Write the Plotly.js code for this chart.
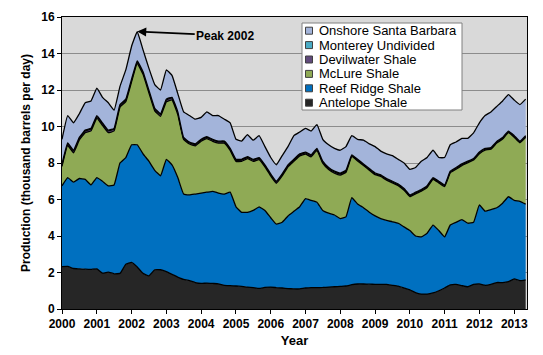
<!DOCTYPE html>
<html>
<head>
<meta charset="utf-8">
<script src="https://cdn.plot.ly/plotly-3.0.1.min.js"></script>
<style>html,body{margin:0;padding:0;background:#fff;}#chart{width:543px;height:355px;}</style>
</head>
<body>
<div id="chart"></div>
<script>
// Sample dates (every two months)
var dates = [
 '2000-01','2000-03','2000-05','2000-07','2000-09','2000-11',
 '2001-01','2001-03','2001-05','2001-07','2001-09','2001-11',
 '2002-01','2002-03','2002-05','2002-07','2002-09','2002-11',
 '2003-01','2003-03','2003-05','2003-07','2003-09','2003-11',
 '2004-01','2004-03','2004-05','2004-07','2004-09','2004-11',
 '2005-01','2005-03','2005-05','2005-07','2005-09','2005-11',
 '2006-01','2006-03','2006-05','2006-07','2006-09','2006-11',
 '2007-01','2007-03','2007-05','2007-07','2007-09','2007-11',
 '2008-01','2008-03','2008-05','2008-07','2008-09','2008-11',
 '2009-01','2009-03','2009-05','2009-07','2009-09','2009-11',
 '2010-01','2010-03','2010-05','2010-07','2010-09','2010-11',
 '2011-01','2011-03','2011-05','2011-07','2011-09','2011-11',
 '2012-01','2012-03','2012-05','2012-07','2012-09','2012-11',
 '2013-01','2013-03','2013-05'
];

// Production, thousand barrels per day
var antelope = [
 2.32,2.33,2.22,2.2,2.18,2.17, 2.2,1.97,2.02,1.93,1.95,2.45,
 2.55,2.3,1.95,1.82,2.15,2.15, 2.05,1.9,1.75,1.62,1.55,1.45,
 1.4,1.42,1.4,1.38,1.3,1.28, 1.26,1.24,1.2,1.17,1.13,1.18,
 1.2,1.17,1.15,1.12,1.1,1.1, 1.15,1.17,1.17,1.18,1.2,1.22,
 1.24,1.26,1.33,1.37,1.37,1.36, 1.35,1.35,1.35,1.3,1.25,1.15,
 1.05,0.9,0.82,0.82,0.88,1.0, 1.15,1.32,1.35,1.28,1.22,1.35,
 1.38,1.3,1.35,1.45,1.45,1.5, 1.65,1.55,1.6
];
var reefRidge = [
 4.43,4.87,4.73,4.95,4.92,4.63, 5.0,5.03,4.73,4.87,6.05,5.85,
 6.45,6.7,6.55,6.28,5.45,5.15, 6.15,6.0,5.45,4.68,4.7,4.85,
 4.95,4.98,5.05,4.97,5.0,5.12, 4.34,4.06,4.1,4.23,4.47,4.22,
 3.8,3.48,3.6,3.98,4.25,4.5, 4.9,4.78,4.68,4.22,4.05,3.93,
 3.71,3.79,4.77,4.38,4.18,3.94, 3.75,3.6,3.5,3.48,3.45,3.35,
 3.25,3.1,3.13,3.33,3.72,3.3, 2.8,3.28,3.4,3.62,3.48,3.4,
 4.32,4.06,4.1,4.1,4.35,4.65, 4.3,4.35,4.15
];
var mclure = [
 1.06,1.76,1.61,2.11,2.56,2.96, 3.26,3.06,2.91,2.96,3.06,3.06,
 3.46,4.46,4.36,3.76,3.26,3.26, 3.16,3.56,3.46,2.99,2.79,2.64,
 2.84,2.94,2.74,2.74,2.79,2.29, 2.49,2.79,2.94,2.69,2.59,2.39,
 2.29,2.24,2.54,2.69,2.74,2.79, 2.44,2.39,2.84,2.59,2.39,2.29,
 2.39,2.44,2.26,2.36,2.31,2.31, 2.26,2.31,2.21,2.13,2.06,2.01,
 1.86,2.31,2.51,2.51,2.51,2.61, 2.76,2.86,2.91,2.96,3.31,3.41,
 2.81,3.35,3.31,3.54,3.51,3.51, 3.46,3.21,3.66
];
var devilwater = [
 0.1,0.1,0.1,0.1,0.1,0.1, 0.1,0.1,0.1,0.1,0.1,0.1,
 0.1,0.1,0.1,0.1,0.1,0.1, 0.1,0.1,0.1,0.07,0.07,0.07,
 0.07,0.07,0.07,0.07,0.07,0.07, 0.07,0.07,0.07,0.07,0.07,0.07,
 0.07,0.07,0.07,0.07,0.07,0.07, 0.07,0.07,0.07,0.07,0.07,0.07,
 0.07,0.07,0.05,0.05,0.05,0.05, 0.05,0.05,0.05,0.05,0.05,0.05,
 0.05,0.05,0.05,0.05,0.05,0.05, 0.05,0.05,0.05,0.05,0.05,0.05,
 0.05,0.05,0.05,0.05,0.05,0.05, 0.05,0.05,0.05
];
var montereyUndivided = [
 0.04,0.04,0.04,0.04,0.04,0.04, 0.04,0.04,0.04,0.04,0.04,0.04,
 0.04,0.04,0.04,0.04,0.04,0.04, 0.04,0.04,0.04,0.04,0.04,0.04,
 0.04,0.04,0.04,0.04,0.04,0.04, 0.04,0.04,0.04,0.04,0.04,0.04,
 0.04,0.04,0.04,0.04,0.04,0.04, 0.04,0.04,0.04,0.04,0.04,0.04,
 0.04,0.04,0.04,0.04,0.04,0.04, 0.04,0.04,0.04,0.04,0.04,0.04,
 0.04,0.04,0.04,0.04,0.04,0.04, 0.04,0.04,0.04,0.04,0.04,0.04,
 0.04,0.04,0.04,0.04,0.04,0.04, 0.04,0.04,0.04
];
var onshoreSB = [
 1.35,1.5,1.5,1.3,1.5,1.5, 1.5,1.4,1.5,1.0,1.0,1.6,
 1.8,1.6,1.2,1.2,1.3,1.3, 1.6,1.2,1.0,1.4,1.45,1.35,
 1.2,1.35,1.3,1.4,1.2,1.4, 1.1,1.0,1.2,1.05,1.2,1.0,
 0.9,0.9,1.0,1.0,1.3,1.2, 1.3,1.3,1.3,1.2,1.25,1.25,
 1.25,1.3,1.05,1.1,1.3,1.35, 1.45,1.3,1.35,1.4,1.35,1.4,
 1.4,1.35,1.55,1.55,1.5,1.3, 1.5,1.45,1.4,1.4,1.25,1.4,
 1.6,1.8,1.95,1.92,2.0,2.0, 1.95,2.0,2.0
];

var seriesNames = ['Antelope Shale','Reef Ridge Shale','McLure Shale','Devilwater Shale','Monterey Undivided','Onshore Santa Barbara'];
var seriesData = [antelope, reefRidge, mclure, devilwater, montereyUndivided, onshoreSB];
var seriesColors = ['#262626','#0070c0','#8faa55','#604a7b','#4bacc6','#a3b4da'];

var traces = seriesNames.map(function(name, i){
  return {
    x: dates, y: seriesData[i], name: name, type: 'scatter', mode: 'lines',
    stackgroup: 'one', fillcolor: seriesColors[i],
    line: {color: '#000000', width: 1.3, shape: 'spline', smoothing: 0.3},
    hoverinfo: 'x+y+name', showlegend: false
  };
});

var font = 'Arial, "Liberation Sans", sans-serif';

// Custom compact legend (box, swatches, labels), in plot-area fractions
var plotL = 62, plotR = 527, plotT = 17, plotB = 309;
function px(x){ return (x - plotL) / (plotR - plotL); }
function py(y){ return (plotB - y) / (plotB - plotT); }
var legBox = {x0: 302, x1: 462, y0: 23, y1: 110};
var legRow0 = 30.7, legRowGap = 14.4, legSwatchX = 309, legTextX = 317;

var shapes = [{
  type: 'rect', xref: 'paper', yref: 'paper',
  x0: px(legBox.x0), x1: px(legBox.x1), y0: py(legBox.y1), y1: py(legBox.y0),
  fillcolor: '#ffffff', line: {color: '#808080', width: 1}, layer: 'above'
}];
var annotations = [{
  x: '2002-03-01', y: 15.2, xref: 'x', yref: 'y',
  text: '<b>Peak 2002</b>', showarrow: true,
  arrowhead: 2, arrowsize: 1, arrowwidth: 1.8, arrowcolor: '#000',
  ax: 88, ay: 4, font: {family: font, size: 12, color: '#000'}
}];
for (var j = 0; j < seriesNames.length; j++) {
  var idx = seriesNames.length - 1 - j;
  var rowY = legRow0 + j * legRowGap;
  shapes.push({
    type: 'rect', xref: 'paper', yref: 'paper',
    xsizemode: 'pixel', ysizemode: 'pixel',
    xanchor: px(legSwatchX), yanchor: py(rowY),
    x0: -3.5, x1: 3.5, y0: -3.5, y1: 3.5,
    fillcolor: seriesColors[idx], line: {color: '#404040', width: 1}, layer: 'above'
  });
  annotations.push({
    xref: 'paper', yref: 'paper', x: px(legTextX), y: py(rowY),
    xanchor: 'left', yanchor: 'middle', showarrow: false,
    text: seriesNames[idx], font: {family: font, size: 13, color: '#000'}
  });
}

var layout = {
  width: 543, height: 355,
  margin: {l: 62, r: 16, t: 17, b: 46},
  paper_bgcolor: '#ffffff', plot_bgcolor: '#d9d9d9',
  font: {family: font, color: '#000'},
  showlegend: false,
  xaxis: {
    type: 'date', range: ['2000-01-01', '2013-05-15'],
    tickvals: ['2000-01-01','2001-01-01','2002-01-01','2003-01-01','2004-01-01','2005-01-01','2006-01-01','2007-01-01','2008-01-01','2009-01-01','2010-01-01','2011-01-01','2012-01-01','2013-01-01'],
    tickformat: '%Y', ticks: 'outside', ticklen: 4, tickcolor: '#000',
    tickfont: {family: font, size: 12, color: '#000', weight: 'bold'},
    showgrid: false, zeroline: false,
    showline: true, linecolor: '#000', linewidth: 1, mirror: true,
    title: {text: '<b>Year</b>', font: {family: font, size: 13, color: '#000'}, standoff: 5}
  },
  yaxis: {
    range: [0, 16], dtick: 2, tick0: 0,
    ticks: 'outside', ticklen: 4, tickcolor: '#000',
    tickfont: {family: font, size: 12, color: '#000', weight: 'bold'},
    showgrid: true, gridcolor: '#8c8c8c', gridwidth: 1, zeroline: false,
    showline: true, linecolor: '#000', linewidth: 1, mirror: true,
    title: {text: '<b>Production (thousand barrels per day)</b>', font: {family: font, size: 12, color: '#000'}, standoff: 8}
  },
  shapes: shapes,
  annotations: annotations
};

Plotly.newPlot('chart', traces, layout, {displayModeBar: false, staticPlot: true});
</script>
</body>
</html>
